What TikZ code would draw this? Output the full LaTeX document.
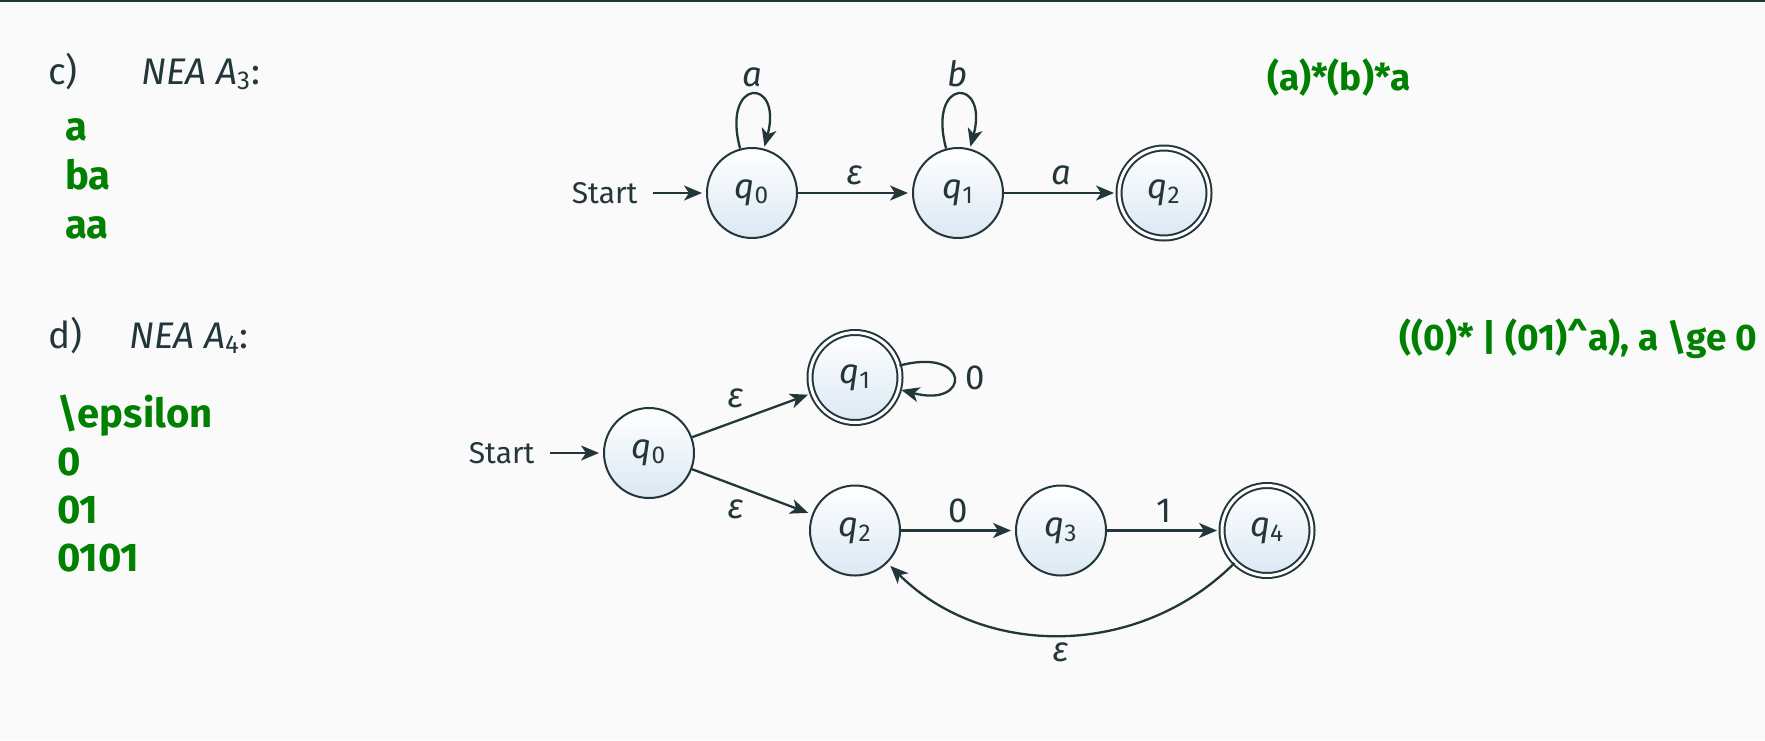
\documentclass[tikz,border=0pt]{standalone}
\usepackage{fontspec}
\setmainfont{Fira Sans}
\usetikzlibrary{arrows.meta,positioning}

\definecolor{bgcol}{HTML}{FAFAFA}
\definecolor{mdark}{HTML}{23373B}
\definecolor{answergreen}{RGB}{0,128,0}
\definecolor{statebot}{RGB}{219,232,243}
\newcommand{\qs}[1]{\textit{q}\textsubscript{#1}}

\begin{document}
\begin{tikzpicture}[x=0.5pt,y=0.5pt,shorten >=2pt,draw=mdark,text=mdark,line width=1pt,node distance=103pt,font=\fontsize{17.4}{21}\selectfont]
\tikzstyle{trans}=[->,>={Stealth[length=9pt,width=7.5pt,inset=2.5pt]},line width=1.15pt]
\tikzstyle{state}=[circle,draw=mdark,line width=1pt,top color=white,bottom color=statebot,minimum size=45pt,inner sep=0pt]
\tikzstyle{accepting}=[double=white,double distance=1.5pt]
\tikzstyle{heading}=[anchor=base west,inner sep=0pt,font=\fontsize{18.5}{22}\selectfont]
\tikzstyle{answer}=[anchor=base west,inner sep=0pt,text=answergreen,font=\fontsize{20}{24}\selectfont\bfseries]
\tikzstyle{regex}=[inner sep=0pt,text=answergreen,font=\fontsize{18.5}{22}\selectfont\bfseries]
\tikzstyle{start}=[font=\fontsize{15}{18}\selectfont,node distance=73.7pt]

% Background and top rule
\fill[bgcol] (0,0) rectangle (1765,-740);
\fill[mdark] (0,0) rectangle (1765,-1.5);

% Part c: headings and words
\node[heading] (c-label) at (47,-84) {c)};
\node[heading] (c-title) at (140,-84) {\textit{NEA A}\textsubscript{3}:};
\foreach \word [count=\i] in {a,ba,aa}
\node[answer] (c-w\i) at (64,-91-49*\i) {\word};
\node[regex,anchor=base west] (c-regex) at (1266,-90) {(a)*(b)*a};

% Part c: states
\node[state] (c-q0) at (752,-193) {\qs{0}};
\node[state, right of=c-q0] (c-q1) {\qs{1}};
\node[state, accepting, right of=c-q1] (c-q2) {\qs{2}};
\node[start, left of=c-q0] (c-start) {Start};

\path[trans] (c-start) edge[shorten <=4pt] (c-q0)
(c-q0) edge[loop above] node[above] {\textit{a}} ()
(c-q0) edge node[above] {\textit{ε}} (c-q1)
(c-q1) edge[loop above] node[above] {\textit{b}} ()
(c-q1) edge node[above] {\textit{a}} (c-q2);

% Part d: headings and words
\node[heading] (d-label) at (47,-348) {d)};
\node[heading] (d-title) at (128,-348) {\textit{NEA A}\textsubscript{4}:};
\foreach \word [count=\i] in {\textbackslash epsilon,0,01,0101}
\node[answer] (d-w\i) at (56,-379-48*\i) {\word};
\node[regex,anchor=base east] (d-regex) at (1758,-350) {((0)* | (01)\textasciicircum a), a \textbackslash ge 0};

% Part d: states
\node[state] (d-q0) at (649,-453) {\qs{0}};
\node[state, accepting] (d-q1) at (855,-377.5) {\qs{1}};
\node[state] (d-q2) at (855,-530.5) {\qs{2}};
\node[state, right of=d-q2] (d-q3) {\qs{3}};
\node[state, accepting, right of=d-q3] (d-q4) {\qs{4}};
\node[start, left of=d-q0] (d-start) {Start};

\path[trans] (d-start) edge[shorten <=4pt] (d-q0)
(d-q0) edge node[above left] {\textit{ε}} (d-q1)
(d-q0) edge node[below left] {\textit{ε}} (d-q2)
(d-q1) edge[loop right] node[right=2pt] {0} ()
(d-q2) edge node[above] {0} (d-q3)
(d-q3) edge node[above] {1} (d-q4)
(d-q4) edge[bend left=45] node[below] {\textit{ε}} (d-q2);

\end{tikzpicture}
\end{document}
